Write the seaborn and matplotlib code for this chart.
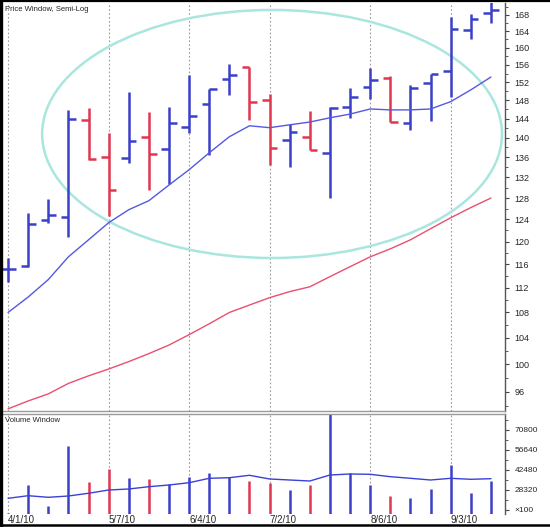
import numpy as np
import pandas as pd
import matplotlib
matplotlib.use("Agg")
import matplotlib.pyplot as plt
import seaborn as sns
from matplotlib.patches import Ellipse
from matplotlib.lines import Line2D
from matplotlib.ticker import FixedLocator, NullFormatter

# weekly OHLC bars, 4/1/10 .. 9/17/10
opens = [115.2, 115.8, 123.9, 124.5, 143.8, 136.1, 135.9, 140.2, 137.7, 142.3, 147.2, 152.8, 155.5,
         148.1, 139.6, 140.2, 136.9, 146.5, 151.0, 153.0, 143.1, 151.9, 154.6, 164.3, 168.5]
highs = [117.1, 125.2, 127.8, 145.9, 146.3, 141.0, 149.9, 145.5, 146.5, 153.7, 150.5, 156.2, 155.5,
         149.4, 142.9, 145.7, 146.5, 150.7, 155.3, 153.5, 151.4, 153.9, 167.5, 168.2, 171.3]
lows = [113.0, 115.6, 123.4, 120.8, 135.5, 124.7, 134.9, 129.6, 130.7, 141.0, 136.5, 149.2, 143.8,
        134.5, 134.1, 137.5, 128.0, 144.2, 148.3, 143.3, 141.6, 143.5, 148.7, 162.1, 166.0]
closes = [115.2, 123.2, 124.8, 144.0, 135.7, 129.6, 139.3, 136.7, 143.1, 144.6, 150.5, 153.7, 147.6,
          137.9, 141.2, 137.5, 146.3, 148.7, 152.6, 143.3, 150.7, 153.9, 164.5, 167.0, 169.2]

# moving averages on the price window
ma_fast = [108.0, 110.5, 113.4, 117.3, 120.3, 123.4, 125.8, 127.5, 130.5, 133.5, 136.9, 140.2, 142.5,
           142.1, 142.7, 143.3, 144.2, 145.0, 146.1, 145.9, 145.9, 146.1, 147.7, 150.3, 153.2]
ma_slow = [93.6, 94.7, 95.7, 97.2, 98.3, 99.3, 100.4, 101.6, 102.9, 104.5, 106.2, 108.0, 109.2,
           110.4, 111.4, 112.2, 113.9, 115.6, 117.3, 118.7, 120.3, 122.3, 124.3, 126.2, 128.0]

# volume (x100) and its average
volume = [12000, 31860, 17200, 59470, 34200, 43190, 36600, 35900, 32570, 37740, 40570, 37740, 34900,
          33060, 28320, 31860, 83000, 40140, 31860, 24280, 22440, 29030, 46020, 25990, 34900]
vol_ma = [22440, 24280, 23150, 24070, 26000, 28320, 29030, 30660, 31860, 33490, 36600, 37030, 38730,
          36110, 35400, 34690, 38940, 39650, 39440, 37740, 36600, 35400, 36600, 35900, 36320]

date_pos = [0, 5, 9, 13, 18, 22]
date_labels = ["4/1/10", "5/7/10", "6/4/10", "7/2/10", "8/6/10", "9/3/10"]
price_ticks = [96, 100, 104, 108, 112, 116, 120, 124, 128, 132, 136, 140, 144, 148, 152, 156, 160, 164, 168]
vol_ticks = [14160, 28320, 42480, 56640, 70800]
vol_tick_labels = ["×100", "28320", "42480", "56640", "70800"]

BLUE = "#3b40c8"
RED = "#e03650"

df = pd.DataFrame({"open": opens, "high": highs, "low": lows, "close": closes,
                   "ma_fast": ma_fast, "ma_slow": ma_slow, "volume": volume, "vol_ma": vol_ma})
df["week"] = np.arange(len(df))
df["color"] = np.where(df["close"] >= df["open"], BLUE, RED)

sns.set_theme(style="white")
plt.rcParams['font.family'] = ['Liberation Sans', 'DejaVu Sans']

fig = plt.figure(figsize=(5.5, 5.27), dpi=100)
ax = fig.add_axes([3 / 550, 1 - 411 / 527, 502 / 550, 408 / 527])
axv = fig.add_axes([3 / 550, 1 - 514 / 527, 502 / 550, 100 / 527])

# ---- price window
ax.set_yscale("log")
for p in date_pos:
    ax.axvline(p, color="#9a9a9a", lw=0.8, ls=(0, (1.5, 2)), zorder=0)
ax.vlines(df["week"], df["low"], df["high"], colors=df["color"], lw=1.8)
ax.hlines(df["open"], df["week"] - 0.38, df["week"], colors=df["color"], lw=1.8)
ax.hlines(df["close"], df["week"], df["week"] + 0.38, colors=df["color"], lw=1.8)
sns.lineplot(data=df, x="week", y="ma_fast", ax=ax, color="#5558e0", lw=1)
sns.lineplot(data=df, x="week", y="ma_slow", ax=ax, color="#e8506e", lw=1)
ax.add_patch(Ellipse((0.536, 0.679), 0.916, 0.608, transform=ax.transAxes,
                     fill=False, ec="#a9e6df", lw=1.8))
ax.set_xlim(-0.25, 24.7)
ax.set_ylim(93.3, 171.0)
ax.yaxis.tick_right()
ax.yaxis.set_major_locator(FixedLocator(price_ticks))
ax.set_yticklabels([str(t) for t in price_ticks])
ax.yaxis.set_minor_locator(FixedLocator([t + 2 for t in price_ticks] + [94]))
ax.yaxis.set_minor_formatter(NullFormatter())
ax.set_xticks([])
ax.set_xlabel("")
ax.set_ylabel("")
ax.text(0.004, 0.992, "Price Window, Semi-Log", transform=ax.transAxes, va="top", ha="left",
        fontsize=5.5, color="#222222")

# ---- volume window
for p in date_pos:
    axv.axvline(p, color="#9a9a9a", lw=0.8, ls=(0, (1.5, 2)), zorder=0)
axv.vlines(df["week"], 0, df["volume"], colors=df["color"], lw=1.8)
sns.lineplot(data=df, x="week", y="vol_ma", ax=axv, color="#3b40d8", lw=1)
axv.set_xlim(-0.25, 24.7)
axv.set_ylim(11328, 82128)
axv.yaxis.tick_right()
axv.yaxis.set_major_locator(FixedLocator(vol_ticks))
axv.set_yticklabels(vol_tick_labels)
axv.yaxis.set_minor_locator(FixedLocator([t + 7080 for t in vol_ticks]))
axv.yaxis.set_minor_formatter(NullFormatter())
axv.set_xticks(date_pos)
axv.set_xticklabels(date_labels, ha="left")
axv.set_xlabel("")
axv.set_ylabel("")
axv.text(0.004, 0.97, "Volume Window", transform=axv.transAxes, va="top", ha="left",
         fontsize=5.5, color="#222222")

for a in (ax, axv):
    a.tick_params(axis="y", which="major", direction="out", length=3, width=0.8,
                  color="#444444", labelsize=6.5, pad=4, right=True, left=False)
    a.tick_params(axis="y", which="minor", direction="out", length=2, width=0.6,
                  color="#444444", right=True, left=False)
    a.spines["left"].set_visible(False)
    a.spines["right"].set_color("#555555")
    a.spines["right"].set_linewidth(1.0)
    a.grid(False)
ax.spines["top"].set_visible(False)
ax.spines["bottom"].set_color("#9a9a9a")
ax.spines["bottom"].set_linewidth(1.0)
axv.spines["top"].set_color("#9a9a9a")
axv.spines["top"].set_linewidth(1.0)
axv.spines["bottom"].set_visible(False)
axv.tick_params(axis="y", labelsize=6)
axv.tick_params(axis="x", length=0, pad=1, labelsize=7)

# black screen frame on left, top and bottom
fig.add_artist(Line2D([0.0025, 0.0025], [0, 1], transform=fig.transFigure, color="black", lw=2.4))
fig.add_artist(Line2D([0, 1], [0.998, 0.998], transform=fig.transFigure, color="black", lw=1.6))
fig.add_artist(Line2D([0, 1], [0.004, 0.004], transform=fig.transFigure, color="black", lw=1.8))

fig.savefig("out.png", dpi=100)
